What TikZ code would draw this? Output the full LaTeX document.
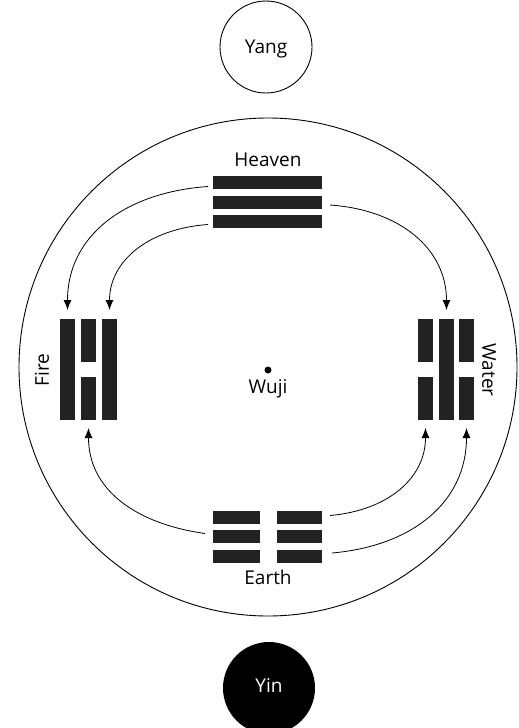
\documentclass[tikz,border=0pt]{standalone}
\usepackage{fontspec}
\setmainfont{Open Sans}
\usetikzlibrary{arrows.meta}
\definecolor{barcol}{HTML}{222222}
\tikzset{
  trigbar/.style={fill=barcol, draw=none, inner sep=0pt, outer sep=0pt, rectangle},
  hbar/.style={trigbar, minimum height=13pt},
  vbar/.style={trigbar, minimum width=15.5pt},
  lbl/.style={font=\fontsize{19}{22}\selectfont, text=black, inner sep=0pt},
  conn/.style={line width=0.8pt, -{Latex[length=10pt,width=8pt]}},
}
\begin{document}
\begin{tikzpicture}[x=1pt,y=-1pt]
\useasboundingbox (0,0) rectangle (519,728);
% outer circles
\node[circle, draw, line width=0.9pt, minimum size=92pt, inner sep=0pt] (yang) at (266,47) {};
\node[lbl] at (266,49) {Yang};
\node[circle, fill=black, minimum size=92pt, inner sep=0pt] (yin) at (269,688) {};
\node[lbl, text=white] at (269,686) {Yin};
\node[circle, draw, line width=0.9pt, minimum size=498pt, inner sep=0pt] (wuji circle) at (268,367) {};
% centre
\node[circle, fill=black, minimum size=7pt, inner sep=0pt] (dot) at (268,370) {};
\node[lbl] (wuji) at (268,389) {Wuji};
% Heaven
\node[lbl] (heavenlbl) at (268,160) {Heaven};
\node[hbar, minimum width=109pt] (h1) at (267.5,182.5) {};
\node[hbar, minimum width=109pt] (h2) at (267.5,202) {};
\node[hbar, minimum width=109pt] (h3) at (267.5,221.5) {};
% Earth
\node[hbar, minimum width=47pt] (e1l) at (236.5,517.5) {};
\node[hbar, minimum width=47pt] (e2l) at (236.5,536.5) {};
\node[hbar, minimum width=47pt] (e3l) at (236.5,556) {};
\node[hbar, minimum width=45pt] (e1r) at (299.5,517.5) {};
\node[hbar, minimum width=45pt] (e2r) at (299.5,536.5) {};
\node[hbar, minimum width=45pt] (e3r) at (299.5,556) {};
\node[lbl] (earthlbl) at (268,577) {Earth};
% Fire
\node[vbar, minimum height=101pt] (f1) at (67.5,369.5) {};
\node[vbar, minimum height=43pt] (f2t) at (88.5,340.5) {};
\node[vbar, minimum height=43pt] (f2b) at (88.5,398.5) {};
\node[vbar, minimum height=101pt] (f3) at (109.5,369.5) {};
\node[lbl, rotate=90] (firelbl) at (42,370) {Fire};
% Water
\node[vbar, minimum height=43pt] (w1t) at (425.5,340.5) {};
\node[vbar, minimum height=43pt] (w1b) at (425.5,398.5) {};
\node[vbar, minimum height=101pt] (w2) at (446.5,369.5) {};
\node[vbar, minimum height=43pt] (w3t) at (466.5,340.5) {};
\node[vbar, minimum height=43pt] (w3b) at (466.5,398.5) {};
\node[lbl, rotate=-90] (waterlbl) at (489,370) {Water};
% connectors
\draw[conn, shorten >=9pt] ([xshift=-5pt,yshift=-4pt]h1.west) to[out=184,in=90,looseness=1.1] (f1.north);
\draw[conn, shorten >=9pt] ([xshift=-5pt,yshift=-3pt]h3.west) to[out=184,in=90,looseness=1.1] (f3.north);
\draw[conn, shorten >=9pt] ([xshift=8pt,yshift=-3pt]h2.east) to[out=-4,in=90,looseness=1.1] (w2.north);
\draw[conn, shorten >=8pt] ([xshift=-8pt,yshift=3pt]e2l.west) to[out=172,in=-90,looseness=1.1] (f2b.south);
\draw[conn, shorten >=8pt] ([xshift=8pt,yshift=2pt]e1r.east) to[out=5,in=-90,looseness=1.1] (w1b.south);
\draw[conn, shorten >=8pt] ([xshift=10pt,yshift=3pt]e3r.east) to[out=5,in=-90,looseness=1.1] (w3b.south);
\end{tikzpicture}
\end{document}
